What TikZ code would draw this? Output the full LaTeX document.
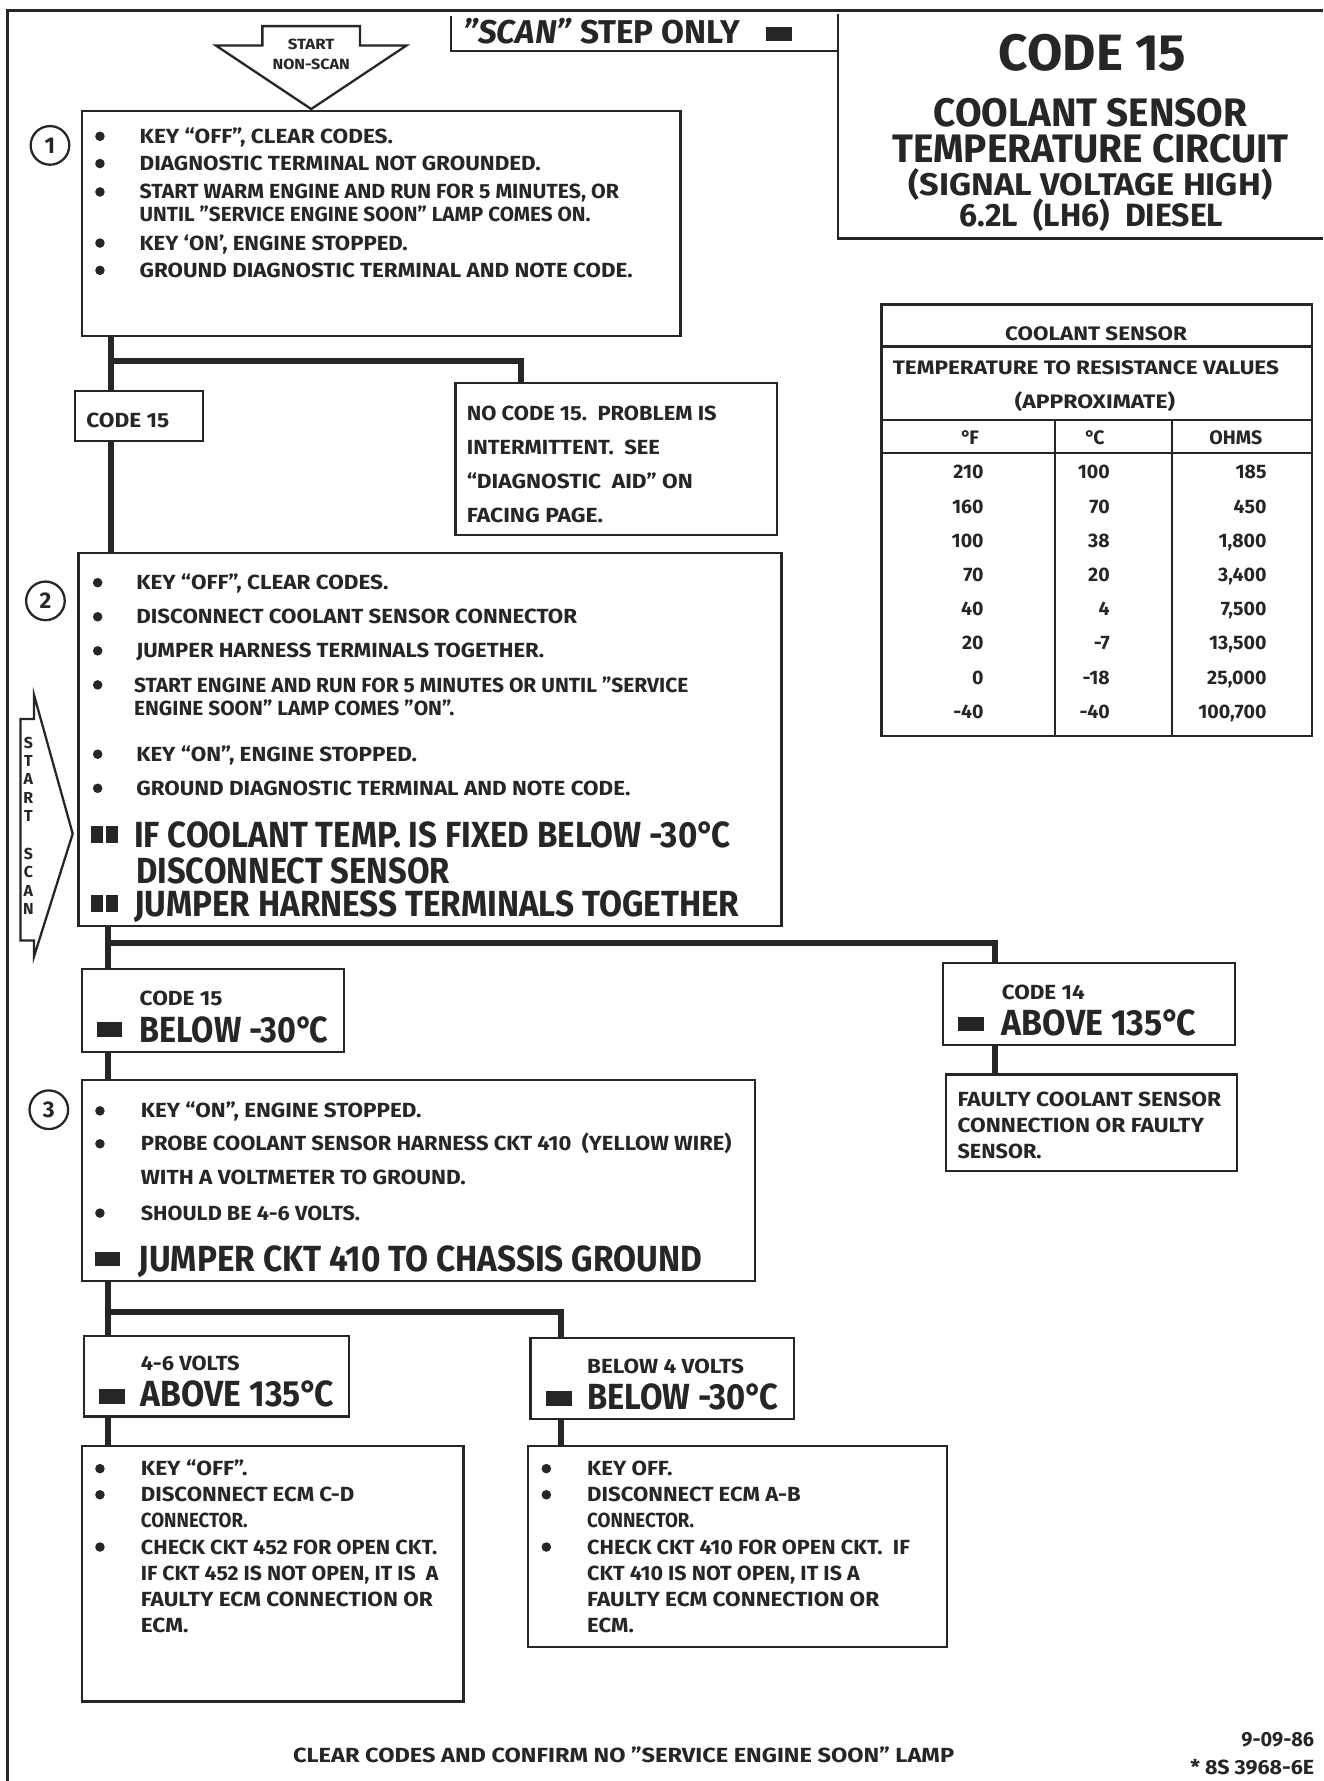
\documentclass[tikz,border=0pt]{standalone}
\usepackage{fontspec}
\usepackage{graphicx}
\setmainfont{Fira Sans}
\usetikzlibrary{fit}
\definecolor{ink}{RGB}{38,38,38}
\newdimen\tU \tU=0.5pt
\newcommand\tw[2]{\resizebox{#1\tU}{\height}{#2}}
\newcommand\fs[1]{\fontsize{#1}{#1}\selectfont\bfseries}
\newcommand\TL[6][]{\node[txt,#1] (#2) at (#3,#4) {\tw{#5}{#6}};}
\newcommand\dC{°\kern-0.1em C}
\tikzset{
  box/.style={draw=ink, line width=1pt, inner sep=0pt, outer sep=0pt},
  conn/.style={draw=ink, line width=2.6pt, line join=miter},
  frame/.style={draw=ink, line width=1.3pt},
  txt/.style={inner sep=0pt, outer sep=0pt, text=ink, anchor=base west, font=\fs{9}},
  big/.style={font=\fs{16}},
  tt/.style={inner sep=0pt, outer sep=0pt, text=ink, anchor=base, font=\fs{17.5}},
  tb/.style={inner sep=0pt, outer sep=0pt, text=ink, font=\fs{8.6}},
  circ/.style={circle, draw=ink, line width=1pt, minimum size=17pt, inner sep=0pt, font=\fs{10}, text=ink},
  sq/.style={fill=ink},
  bul/.style={fill=ink},
}
\begin{document}
\begin{tikzpicture}[x=0.5pt,y=-0.5pt]
\useasboundingbox (0,0) rectangle (1165,1568);
\fill[white] (0,0) rectangle (1165,1568);
% frame
\draw[frame] (7,1568) -- (7,9) -- (1165,9);
% scan step only
\draw[box] (397,14) -- (397,45) -- (738,45);
\node[txt, font=\fs{14.5}] (scan) at (408,38) {\tw{244}{\textit{”SCAN”} STEP ONLY}};
\fill[sq] (674,24) rectangle (697,36);
% title box
\draw[box] (738,12) -- (738,210) -- (1165,210);
\node[tt, font=\fs{22.5}] (ti1) at (962,62.5) {\tw{165}{CODE 15}};
\node[tt] (ti2) at (960,111) {\tw{276}{COOLANT SENSOR}};
\node[tt] (ti3) at (960,143.5) {\tw{349}{TEMPERATURE CIRCUIT}};
\node[tt, font=\fs{13.8}] (ti4) at (960,172.5) {\tw{320}{(SIGNAL VOLTAGE HIGH)}};
\node[tt, font=\fs{14.2}] (ti5) at (961,199.5) {\tw{232}{6.2L\ \ (LH6)\ \ DIESEL}};
% start non-scan arrow
\draw[box] (231,23) -- (317,23) -- (317,40) -- (358,40) -- (274,96) -- (190,40) -- (231,40) -- cycle;
\node[tt, font=\fs{6.5}] (ns1) at (274,43.5) {\tw{41}{START}};
\node[tt, font=\fs{6.5}] (ns2) at (274,61.5) {\tw{68}{NON-SCAN}};
% start scan arrow
\draw[box] (18,633) -- (30,633) -- (30,612) -- (64,734) -- (30,842) -- (30,828) -- (18,828) -- cycle;
\node[inner sep=0pt, text=ink, align=center, font=\fontsize{7}{8}\selectfont\bfseries] (ss) at (25,727) {S\\T\\A\\R\\T\\[9pt]S\\C\\A\\N};

% ---------- box 1
\node[box, fit={(72,98) (599,296)}] (b1) {};
\node[circ] (n1) at (44,128) {1};
\foreach \y in {120,144,169,214,238} \fill[bul] (88,\y) circle (4.2);
\TL{b1a}{123}{126.2}{223}{KEY “OFF”, CLEAR CODES.}
\TL{b1b}{123}{150.2}{353}{DIAGNOSTIC TERMINAL NOT GROUNDED.}
\TL{b1c}{123}{175}{422}{START WARM ENGINE AND RUN FOR 5 MINUTES, OR}
\TL{b1d}{123}{195}{397}{UNTIL ”SERVICE ENGINE SOON” LAMP COMES ON.}
\TL{b1e}{123}{220.2}{236}{KEY ‘ON’, ENGINE STOPPED.}
\TL{b1f}{123}{244.2}{434}{GROUND DIAGNOSTIC TERMINAL AND NOTE CODE.}

% code 15 (a)
\node[box, fit={(66,344) (179,388)}] (c15a) {};
\TL{c15at}{76}{376}{73}{CODE 15}
% no code 15
\node[box, fit={(401,337) (684,471)}] (nc) {};
\TL{nca}{411}{370}{220}{NO CODE 15.\ \ PROBLEM IS}
\TL{ncb}{411}{400}{170}{INTERMITTENT.\ \ SEE}
\TL{ncc}{411}{430}{199}{“DIAGNOSTIC\ \ AID” ON}
\TL{ncd}{411}{460}{120}{FACING PAGE.}

% ---------- box 2
\node[box, fit={(69,487) (688,815)}] (b2) {};
\node[circ] (n2) at (40,529) {2};
\foreach \y in {513,543,573,603,664,694} \fill[bul] (86,\y) circle (4.2);
\TL{b2a}{120}{519.2}{222}{KEY “OFF”, CLEAR CODES.}
\TL{b2b}{120}{549.2}{388}{DISCONNECT COOLANT SENSOR CONNECTOR}
\TL{b2c}{120}{579.2}{359}{JUMPER HARNESS TERMINALS TOGETHER.}
\TL{b2d}{118}{609.5}{488}{START ENGINE AND RUN FOR 5 MINUTES OR UNTIL ”SERVICE}
\TL{b2e}{118}{629.5}{282}{ENGINE SOON” LAMP COMES ”ON”.}
\TL{b2f}{120}{670.2}{247}{KEY “ON”, ENGINE STOPPED.}
\TL{b2g}{120}{700.2}{435}{GROUND DIAGNOSTIC TERMINAL AND NOTE CODE.}
\fill[sq] (80,727) rectangle (91,742);
\fill[sq] (93,727) rectangle (104,742);
\TL[big]{b2h}{118}{746.5}{525}{IF COOLANT TEMP. IS FIXED BELOW -30\dC}
\TL[big]{b2i}{120}{777.5}{276}{DISCONNECT SENSOR}
\fill[sq] (80,788) rectangle (91,803);
\fill[sq] (93,788) rectangle (104,803);
\TL[big]{b2j}{118}{806.5}{533}{JUMPER HARNESS TERMINALS TOGETHER}

% code 15 (b)
\node[box, fit={(72,853) (303,926)}] (c15b) {};
\TL{c15ba}{123}{885}{73}{CODE 15}
\fill[sq] (85,900) rectangle (107,913);
\TL[big]{c15bb}{123}{917.5}{166}{BELOW -30\dC}
% code 14
\node[box, fit={(830,848) (1087,920)}] (c14) {};
\TL{c14a}{882}{880}{73}{CODE 14}
\fill[sq] (843,895) rectangle (866,908);
\TL[big]{c14b}{882}{911.5}{171}{ABOVE 135\dC}
% faulty
\node[box, fit={(833,946) (1089,1031)}] (fa) {};
\TL{faa}{843}{974}{232}{FAULTY COOLANT SENSOR}
\TL{fab}{843}{997}{217}{CONNECTION OR FAULTY}
\TL{fac}{843}{1020}{74}{SENSOR.}

% ---------- box 3
\node[box, fit={(72,951) (665,1128)}] (b3) {};
\node[circ] (n3) at (43,977) {3};
\foreach \y in {978,1007,1068} \fill[bul] (88,\y) circle (4.2);
\TL{b3a}{124}{984.2}{247}{KEY “ON”, ENGINE STOPPED.}
\TL{b3b}{124}{1013.2}{520}{PROBE COOLANT SENSOR HARNESS CKT 410\ \ (YELLOW WIRE)}
\TL{b3c}{124}{1043.2}{286}{WITH A VOLTMETER TO GROUND.}
\TL{b3d}{124}{1074.2}{193}{SHOULD BE 4-6 VOLTS.}
\fill[sq] (84,1102) rectangle (106,1115);
\TL[big]{b3e}{122}{1119.5}{496}{JUMPER CKT 410 TO CHASSIS GROUND}

% 4-6 volts
\node[box, fit={(74,1176) (307,1247)}] (v46) {};
\TL{v46a}{124}{1207}{87}{4-6 VOLTS}
\fill[sq] (87,1223) rectangle (110,1236);
\TL[big]{v46b}{124}{1238.5}{170}{ABOVE 135\dC}
% below 4 volts
\node[box, fit={(467,1178) (699,1249)}] (vb4) {};
\TL{vb4a}{517}{1209}{138}{BELOW 4 VOLTS}
\fill[sq] (481,1225) rectangle (504,1238);
\TL[big]{vb4b}{517}{1240.5}{168}{BELOW -30\dC}

% bottom left
\node[box, fit={(72,1273) (408,1498)}] (bl) {};
\foreach \y in {1293,1316,1362} \fill[bul] (88,\y) circle (4.2);
\TL{bla}{124}{1299.2}{94}{KEY “OFF”.}
\TL{blb}{124}{1322.2}{188}{DISCONNECT ECM C-D}
\TL{blc}{124}{1345.2}{94}{CONNECTOR.}
\TL{bld}{124}{1368.2}{261}{CHECK CKT 452 FOR OPEN CKT.}
\TL{ble}{124}{1391.2}{262}{IF CKT 452 IS NOT OPEN, IT IS\ \ A}
\TL{blf}{124}{1414.2}{257}{FAULTY ECM CONNECTION OR}
\TL{blg}{124}{1437.2}{42}{ECM.}
% bottom right
\node[box, fit={(465,1273) (834,1450)}] (br) {};
\foreach \y in {1293,1316,1362} \fill[bul] (481,\y) circle (4.2);
\TL{bra}{517}{1299.2}{75}{KEY OFF.}
\TL{brb}{517}{1322.2}{188}{DISCONNECT ECM A-B}
\TL{brc}{517}{1345.2}{94}{CONNECTOR.}
\TL{brd}{517}{1368.2}{284}{CHECK CKT 410 FOR OPEN CKT.\ \ IF}
\TL{bre}{517}{1391.2}{240}{CKT 410 IS NOT OPEN, IT IS A}
\TL{brf}{517}{1414.2}{257}{FAULTY ECM CONNECTION OR}
\TL{brg}{517}{1437.2}{41}{ECM.}

% footer
\TL{foot}{258}{1551.5}{582}{CLEAR CODES AND CONFIRM NO ”SERVICE ENGINE SOON” LAMP}
\node[txt, anchor=base east] (d1) at (1157,1537.5) {\tw{64}{9-09-86}};
\node[txt, anchor=base east] (d2) at (1157,1562.5) {\tw{109}{* 8S 3968-6E}};

% ---------- table
\node[box, fit={(776,268) (1155,648)}] (tab) {};
\draw[box] (776,305) -- (1155,305);
\draw[box] (776,370) -- (1155,370);
\draw[box] (776,399) -- (1155,399);
\draw[box] (929,370) -- (929,648);
\draw[box] (1032,370) -- (1032,648);
\node[tb, anchor=base] (tha) at (965,300) {\tw{160}{COOLANT SENSOR}};
\node[tb, anchor=base] (thb) at (956,330) {\tw{340}{TEMPERATURE TO RESISTANCE VALUES}};
\node[tb, anchor=base] (thc) at (964,360) {\tw{141}{(APPROXIMATE)}};
\node[tb, anchor=base] (hF) at (854,391) {°\kern-0.1em F};
\node[tb, anchor=base] (hC) at (964,391) {\dC};
\node[tb, anchor=base] (hO) at (1088,391) {OHMS};
\foreach \f/\c/\o [count=\i from 0] in {210/100/185,160/70/450,100/38/{1,800},70/20/{3,400},40/4/{7,500},20/-7/{13,500},0/-18/{25,000},-40/-40/{100,700}}{
  \node[tb, anchor=base east] (rf\i) at (866,{421.6+30.1*\i}) {\f};
  \node[tb, anchor=base east] (rc\i) at (977,{421.6+30.1*\i}) {\c};
  \node[tb, anchor=base east] (ro\i) at (1115,{421.6+30.1*\i}) {\o};
}

% ---------- connectors
\coordinate (jA) at (98,318);
\coordinate (jB) at (459,318);
\draw[conn] (b1.south -| jA) -- (c15a.north -| jA);
\draw[conn] (jA) -- (jB) -- (nc.north -| jB);
\draw[conn] (c15a.south -| jA) -- (b2.north -| jA);
\coordinate (jC) at (95,830);
\coordinate (jD) at (876,830);
\draw[conn] (b2.south -| jC) -- (c15b.north -| jC);
\draw[conn] (jC) -- (jD) -- (c14.north -| jD);
\draw[conn] (c14.south -| jD) -- (fa.north -| jD);
\draw[conn] (c15b.south -| jC) -- (b3.north -| jC);
\coordinate (jE) at (95,1155);
\coordinate (jF) at (494,1155);
\draw[conn] (b3.south -| jE) -- (v46.north -| jE);
\draw[conn] (jE) -- (jF) -- (vb4.north -| jF);
\draw[conn] (v46.south -| jE) -- (bl.north -| jE);
\draw[conn] (vb4.south -| jF) -- (br.north -| jF);
\end{tikzpicture}
\end{document}
